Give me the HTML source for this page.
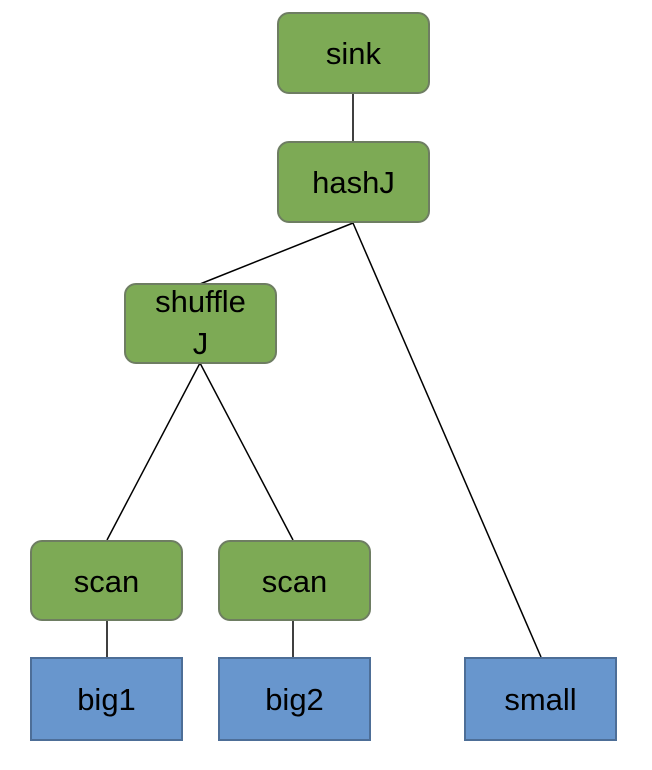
<!DOCTYPE html>
<html><head><style>
html,body{margin:0;padding:0;background:#fff;}
body{width:652px;height:770px;position:relative;overflow:hidden;font-family:"Liberation Sans",sans-serif;}
.g{position:absolute;box-sizing:border-box;background:#7daa55;border:2px solid #6e7d62;border-radius:12px;display:flex;align-items:center;justify-content:center;font-size:31px;color:#000;padding-top:2px;}
.b{position:absolute;box-sizing:border-box;background:#6896cd;border:2px solid #4d6e97;display:flex;align-items:center;justify-content:center;font-size:31px;color:#000;padding-top:2px;}
svg{position:absolute;left:0;top:0;}
</style></head><body>
<svg width="652" height="770"><g stroke="#000" stroke-width="1.5" fill="none">
<line x1="353" y1="94" x2="353" y2="141"/>
<line x1="353" y1="223" x2="200" y2="284"/>
<line x1="353" y1="223" x2="541" y2="657"/>
<line x1="200" y1="363" x2="107" y2="540"/>
<line x1="200" y1="363" x2="293" y2="540"/>
<line x1="107" y1="621" x2="107" y2="657"/>
<line x1="293" y1="621" x2="293" y2="657"/>
</g></svg>
<div class="g" style="left:277px;top:12px;width:153px;height:82px;">sink</div>
<div class="g" style="left:277px;top:141px;width:153px;height:82px;">hashJ</div>
<div class="g" style="left:124px;top:283px;width:153px;height:81px;flex-direction:column;line-height:42px;"><span style="margin-top:-4px">shuffle</span><span>J</span></div>
<div class="g" style="left:30px;top:540px;width:153px;height:81px;">scan</div>
<div class="g" style="left:218px;top:540px;width:153px;height:81px;">scan</div>
<div class="b" style="left:30px;top:657px;width:153px;height:84px;">big1</div>
<div class="b" style="left:218px;top:657px;width:153px;height:84px;">big2</div>
<div class="b" style="left:464px;top:657px;width:153px;height:84px;">small</div>
</body></html>
